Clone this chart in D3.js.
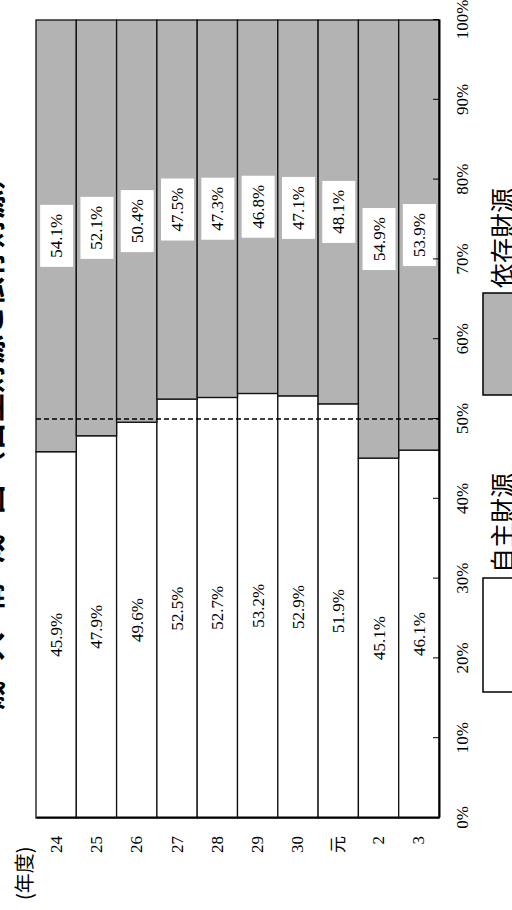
<!DOCTYPE html>
<html>
<head>
<meta charset="utf-8">
<script src="https://cdn.jsdelivr.net/npm/d3@7"></script>
<style>
  body { margin: 0; background: #fff; }
  svg { display: block; }
  .ValueLabel { font-family: "Liberation Serif", "Noto Sans CJK JP", serif; font-size: 17px; }
  .AxisLabel  { font-family: "Liberation Serif", "Noto Sans CJK JP", serif; font-size: 17px; }
  .GraphTitle { font-family: "Noto Sans CJK JP", sans-serif; font-size: 29px; font-weight: 700; }
  .Legend     { font-family: "Noto Sans CJK JP", sans-serif; font-size: 25px; }
</style>
</head>
<body>
<div id="viz"></div>
<script>
// data
const years       = ['24', '25', '26', '27', '28', '29', '30', '元', '2', '3'];
const ownRevenue  = [45.9, 47.9, 49.6, 52.5, 52.7, 53.2, 52.9, 51.9, 45.1, 46.1];
const depRevenue  = [54.1, 52.1, 50.4, 47.5, 47.3, 46.8, 47.1, 48.1, 54.9, 53.9];
const seriesNames = ['自主財源', '依存財源'];
const valueTicks  = [0, 10, 20, 30, 40, 50, 60, 70, 80, 90, 100];
const refLine     = 50;
const titleMain   = '歳入構成図';
const titleSub    = '（自主財源と依存財源）';
const unitLabel   = '(年度)';

// the chart is drawn landscape, then turned -90deg into the portrait page
const CONST = { canvas : { width : 512, height : 910,
                           plot : { left: 92, right: 890, top: 36, bottom: 439 },
                           colors : ['#ffffff', '#b3b3b3'],
                           legend : { u: [218, 515], w: [114, 102], v: 483, h: 70 }
                         } }

const svgCanvas = d3.select('#viz').append('svg')
    .attr('width', CONST.canvas.width)
    .attr('height', CONST.canvas.height)
const svg = svgCanvas.append('g')
    .attr('transform', `translate(0,${CONST.canvas.height}) rotate(-90)`)

const P = CONST.canvas.plot
const x = d3.scaleLinear().domain([0, 100]).range([P.left, P.right])
const y = d3.scaleBand().domain(years).range([P.top, P.bottom])

const rows = years.map((yr, i) => ({ year: yr, own: ownRevenue[i], dep: depRevenue[i] }))
const stacked = d3.stack().keys(['own', 'dep'])(rows)

function drawTitle() {
    // only the lower part of the title is on the page, as in the source
    svg.append('text').text(titleMain)
        .attr('x', 200).attr('y', 2)
        .attr('letter-spacing', 20)
        .attr('class', 'GraphTitle')
    svg.append('text').text(titleSub)
        .attr('x', 430).attr('y', 2)
        .attr('class', 'GraphTitle')
}

function drawBars() {
    stacked.forEach((layer, k) => {
        svg.append('g').selectAll('rect').data(layer).join('rect')
            .attr('x', d => x(d[0]))
            .attr('y', d => y(d.data.year))
            .attr('width', d => x(d[1]) - x(d[0]))
            .attr('height', y.bandwidth())
            .attr('fill', CONST.canvas.colors[k])
            .attr('stroke', '#111')
            .attr('stroke-width', 1.3)
    })

    // reference line
    svg.append('line')
        .attr('x1', x(refLine)).attr('x2', x(refLine))
        .attr('y1', P.top).attr('y2', P.bottom)
        .attr('stroke', '#000')
        .attr('stroke-width', 1.3)
        .attr('stroke-dasharray', '5,3')
}

function drawLabels() {
    const fmt = d => d3.format('.1f')(d) + '%'
    // own revenue: plain text
    svg.append('g').selectAll('text').data(stacked[0]).join('text')
        .attr('x', d => x((d[0] + d[1]) / 2))
        .attr('y', d => y(d.data.year) + y.bandwidth() / 2)
        .attr('dy', '0.35em')
        .attr('text-anchor', 'middle')
        .attr('class', 'ValueLabel')
        .text(d => fmt(d[1] - d[0]))

    // dependent revenue: text on a white box
    const g = svg.append('g').selectAll('g').data(stacked[1]).join('g')
        .attr('transform', d => `translate(${x((d[0] + d[1]) / 2)},${y(d.data.year) + y.bandwidth() / 2})`)
    g.append('rect')
        .attr('x', -31).attr('y', -16)
        .attr('width', 62).attr('height', 33)
        .attr('fill', '#fff')
    g.append('text')
        .attr('dy', '0.35em')
        .attr('text-anchor', 'middle')
        .attr('class', 'ValueLabel')
        .text(d => fmt(d[1] - d[0]))
}

function drawAxes() {
    const valueAxis = svg.append('g')
        .attr('transform', `translate(0,${P.bottom})`)
        .call(d3.axisBottom(x)
            .tickValues(valueTicks)
            .tickFormat(d => d + '%')
            .tickSizeInner(-6)
            .tickSizeOuter(0)
            .tickPadding(17))
    valueAxis.attr('font-family', null).attr('font-size', null)
    valueAxis.select('.domain').attr('stroke', '#000').attr('stroke-width', 2)
    valueAxis.selectAll('line').attr('stroke', '#000')
    valueAxis.selectAll('text').attr('class', 'AxisLabel')

    const catAxis = svg.append('g')
        .attr('transform', `translate(${P.left},0)`)
        .call(d3.axisLeft(y).tickSize(0).tickPadding(18))
    catAxis.attr('font-family', null).attr('font-size', null)
    catAxis.select('.domain').attr('stroke', '#000').attr('stroke-width', 2)
    catAxis.selectAll('text').attr('class', 'AxisLabel')

    svg.append('text').text(unitLabel)
        .attr('x', 10).attr('y', 32)
        .attr('class', 'Legend')
        .style('font-size', '20px')
}

function drawLegend() {
    const L = CONST.canvas.legend
    seriesNames.forEach((name, i) => {
        svg.append('rect')
            .attr('x', L.u[i]).attr('y', L.v)
            .attr('width', L.w[i]).attr('height', L.h)
            .attr('fill', CONST.canvas.colors[i])
            .attr('stroke', '#000')
            .attr('stroke-width', 1.5)
        svg.append('text').text(name)
            .attr('x', L.u[i] + L.w[i] + 5)
            .attr('y', L.v + 29)
            .attr('class', 'Legend')
    })
}

function main() {
    drawTitle()
    drawBars()
    drawLabels()
    drawAxes()
    drawLegend()
}

main();
</script>
</body>
</html>
